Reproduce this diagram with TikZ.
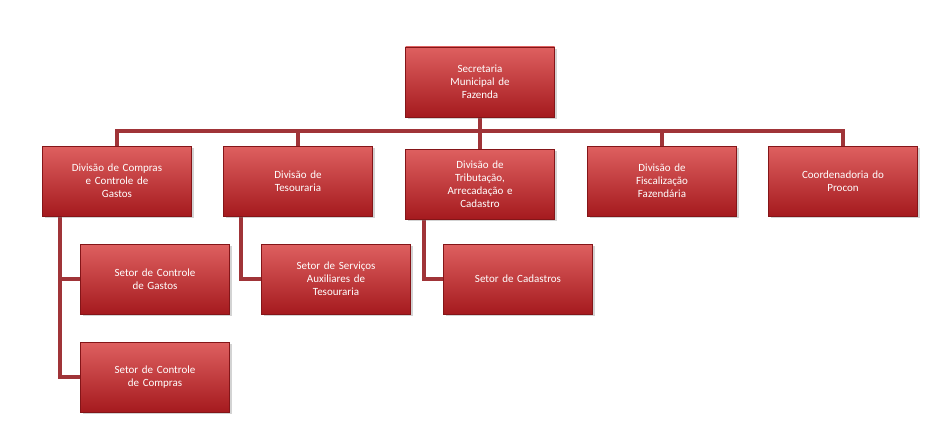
\documentclass[tikz,border=0pt]{standalone}
\usepackage{fontspec}
\setmainfont{Carlito}
\usetikzlibrary{shadows,backgrounds}
\definecolor{boxtop}{RGB}{222,96,96}
\definecolor{boxbot}{RGB}{165,26,30}
\definecolor{linkred}{RGB}{160,52,56}
\tikzset{unit/.style={draw=boxbot!80!black, top color=boxtop, bottom color=boxbot,
    text=white, font=\fontsize{11}{13}\selectfont, align=center,
    minimum width=149pt, minimum height=70pt, text width=140pt, inner sep=2pt,
    drop shadow={shadow xshift=2pt, shadow yshift=-2pt, opacity=0.35}}}
\tikzset{link/.style={draw=linkred, line width=3.5pt}}
\begin{document}
\begin{tikzpicture}[x=1pt,y=-1pt]
    \useasboundingbox (0,0) rectangle (949,444);
    % top level
    \node[unit] (sec) at (480,82) {Secretaria\\Municipal de\\Fazenda};
    % divisions
    \node[unit] (compras) at (117,181) {Divisão de Compras\\e Controle de\\Gastos};
    \node[unit] (tesouraria) at (298,181) {Divisão de\\Tesouraria};
    \node[unit] (tributacao) at (480,184) {Divisão de\\Tributação,\\Arrecadação e\\Cadastro};
    \node[unit] (fiscal) at (662,181) {Divisão de\\Fiscalização\\Fazendária};
    \node[unit] (procon) at (843,181) {Coordenadoria do\\Procon};
    % sectors
    \node[unit] (gastos) at (155,279) {Setor de Controle\\de Gastos};
    \node[unit] (ccompras) at (155,377) {Setor de Controle\\de Compras};
    \node[unit] (auxiliares) at (336,279) {Setor de Serviços\\Auxiliares de\\Tesouraria};
    \node[unit] (cadastros) at (518,279) {Setor de Cadastros};
    \coordinate (bar) at (480,131);
    % connectors behind the boxes
    \begin{scope}[on background layer]
    \draw[link] (sec.south) -- (bar);
    \draw[link] (compras.north) |- (bar) -| (procon.north);
    \draw[link] (tesouraria.north) -- (tesouraria.north |- bar);
    \draw[link] (tributacao.north) -- (tributacao.north |- bar);
    \draw[link] (fiscal.north) -- (fiscal.north |- bar);
    \draw[link] ([xshift=-57pt]compras.south) |- (ccompras.west);
    \draw[link] ([xshift=-57pt]compras.south) |- (gastos.west);
    \draw[link] ([xshift=-57pt]tesouraria.south) |- (auxiliares.west);
    \draw[link] ([xshift=-56pt]tributacao.south) |- (cadastros.west);
    \end{scope}
\end{tikzpicture}
\end{document}
